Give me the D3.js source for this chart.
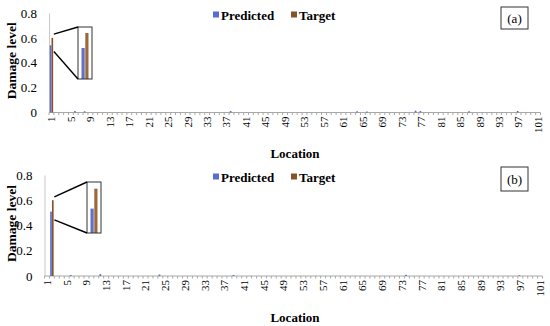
<!DOCTYPE html>
<html>
<head>
<meta charset="utf-8">
<script src="https://cdn.jsdelivr.net/npm/d3@7"></script>
<style>
  body { margin: 0; background: #fff; }
  svg, text { font-family: "Liberation Serif", "Times New Roman", serif; fill: #000; }
</style>
</head>
<body>
<svg id="chart" width="550" height="326"></svg>
<script>
// categories and values
let locations = d3.range(1, 102);
let xTickLabels = locations.filter(d => (d - 1) % 4 === 0);
let yTickValues = [0, 0.2, 0.4, 0.6, 0.8];
let seriesNames = ["Predicted", "Target"];

// [location, damage level] for the non-zero bars
let predictedA = [[1, 0.54], [6, 0.012], [8, 0.01], [38, 0.012], [64, 0.01], [66, 0.008], [76, 0.015], [77, 0.012], [87, 0.01], [97, 0.012]];
let targetA = [[1, 0.6]];
let predictedB = [[2, 0.51], [6, 0.008], [12, 0.015], [24, 0.012], [39, 0.008], [74, 0.01], [97, 0.006]];
let targetB = [[2, 0.6]];

let colors = {Predicted: "#5a6ccf", Target: "#84532a"};
let insetColors = {Predicted: "#6470c8", Target: "#9a6a3c"};

let svg = d3.select("#chart");

let panels = [
    {label: "(a)", pred: predictedA, target: targetA, xr: [49, 540.5], yr: [112.5, 13],
     legendY: 15, tagBox: [501, 7, 27, 22], locY: 158,
     inset: {loc: 1, x: 78, y: 27, w: 14, h: 52, domain: [0.416, 0.624], from: [0.63, 0.49]}},
    {label: "(b)", pred: predictedB, target: targetB, xr: [44.5, 542.5], yr: [276, 175],
     legendY: 177, tagBox: [501, 167, 27, 24], locY: 322,
     inset: {loc: 2, x: 87, y: 182, w: 14, h: 51, domain: [0.40, 0.63], from: [0.626, 0.444]}}
];

let serif = "'Liberation Serif', 'Times New Roman', serif";

panels.forEach(p => {
    let g = svg.append("g");

    let xScale = d3.scaleBand().domain(locations).range(p.xr);
    let inner = d3.scaleBand().domain(seriesNames).range([0.15 * xScale.bandwidth(), 0.85 * xScale.bandwidth()]).paddingInner(0.05);
    let yScale = d3.scaleLinear().domain([0, 0.8]).range(p.yr);

    // y axis
    let yAxis = d3.axisLeft(yScale).tickValues(yTickValues).tickSize(0).tickPadding(12)
        .tickFormat(d => d === 0 ? "0" : d.toFixed(1));
    let ya = g.append("g")
        .attr("transform", "translate(" + p.xr[0] + ",0)")
        .call(yAxis)
        .attr("font-family", serif);
    ya.select(".domain").attr("stroke", "#c8c8c8");
    ya.selectAll("text").style("font-size", "13px");

    // x axis line + minor ticks at every category boundary
    g.append("line")
        .attr("x1", p.xr[0]).attr("x2", p.xr[1])
        .attr("y1", p.yr[0]).attr("y2", p.yr[0])
        .attr("stroke", "#a8a8a8");
    g.selectAll(".minor")
        .data(locations.concat(["end"]))
        .enter().append("line")
        .attr("x1", d => d === "end" ? p.xr[1] : xScale(d))
        .attr("x2", d => d === "end" ? p.xr[1] : xScale(d))
        .attr("y1", p.yr[0]).attr("y2", p.yr[0] + 2.5)
        .attr("stroke", "#a8a8a8");

    let xAxis = d3.axisBottom(xScale).tickValues(xTickLabels).tickSize(0);
    let xa = g.append("g")
        .attr("transform", "translate(0," + p.yr[0] + ")")
        .call(xAxis)
        .attr("font-family", serif);
    xa.select(".domain").remove();
    xa.selectAll("text")
        .style("font-size", "11px")
        .attr("transform", "rotate(-90)")
        .attr("text-anchor", "end")
        .attr("x", -4)
        .attr("y", 0)
        .attr("dy", "0.35em");

    // bars
    g.selectAll(".pred")
        .data(p.pred)
        .enter().append("rect")
        .attr("x", d => xScale(d[0]) + inner("Predicted"))
        .attr("width", inner.bandwidth())
        .attr("y", d => yScale(d[1]))
        .attr("height", d => yScale(0) - yScale(d[1]))
        .attr("fill", colors.Predicted);
    g.selectAll(".targ")
        .data(p.target)
        .enter().append("rect")
        .attr("x", d => xScale(d[0]) + inner("Target"))
        .attr("width", inner.bandwidth())
        .attr("y", d => yScale(d[1]))
        .attr("height", d => yScale(0) - yScale(d[1]))
        .attr("fill", colors.Target);

    // zoomed inset
    let ins = p.inset;
    let ix = d3.scaleBand().domain(seriesNames).range([ins.x + 3.5, ins.x + ins.w - 3.5]).paddingInner(0.15);
    let iy = d3.scaleLinear().domain(ins.domain).range([ins.y + ins.h, ins.y]);
    let insetVals = [
        ["Predicted", p.pred.find(d => d[0] === ins.loc)[1]],
        ["Target", p.target.find(d => d[0] === ins.loc)[1]]
    ];
    g.selectAll(".ibar")
        .data(insetVals)
        .enter().append("rect")
        .attr("x", d => ix(d[0]))
        .attr("width", ix.bandwidth())
        .attr("y", d => iy(d[1]))
        .attr("height", d => iy(ins.domain[0]) - iy(d[1]))
        .attr("fill", d => insetColors[d[0]]);
    g.append("rect")
        .attr("x", ins.x).attr("y", ins.y)
        .attr("width", ins.w).attr("height", ins.h)
        .attr("fill", "none")
        .attr("stroke", "#333")
        .attr("stroke-width", 1);
    let barRight = xScale(ins.loc) + xScale.bandwidth();
    g.append("line")
        .attr("x1", barRight).attr("y1", yScale(ins.from[0]))
        .attr("x2", ins.x).attr("y2", ins.y)
        .attr("stroke", "#000").attr("stroke-width", 1.4);
    g.append("line")
        .attr("x1", barRight).attr("y1", yScale(ins.from[1]))
        .attr("x2", ins.x).attr("y2", ins.y + ins.h)
        .attr("stroke", "#000").attr("stroke-width", 1.4);

    // legend
    let legendX = [213, 291];
    seriesNames.forEach((s, i) => {
        g.append("rect")
            .attr("x", legendX[i]).attr("y", p.legendY - 3.5)
            .attr("width", 6).attr("height", 6)
            .attr("fill", colors[s]);
        g.append("text")
            .attr("x", legendX[i] + 8).attr("y", p.legendY + 4.5)
            .style("font-size", "13px").style("font-weight", "bold")
            .text(s);
    });

    // panel tag
    g.append("rect")
        .attr("x", p.tagBox[0]).attr("y", p.tagBox[1])
        .attr("width", p.tagBox[2]).attr("height", p.tagBox[3])
        .attr("fill", "none").attr("stroke", "#333");
    g.append("text")
        .attr("x", p.tagBox[0] + p.tagBox[2] / 2)
        .attr("y", p.tagBox[1] + p.tagBox[3] / 2 + 4.5)
        .attr("text-anchor", "middle")
        .style("font-size", "13px")
        .text(p.label);

    // axis titles
    g.append("text")
        .attr("x", 295).attr("y", p.locY)
        .attr("text-anchor", "middle")
        .style("font-size", "13px").style("font-weight", "bold")
        .text("Location");
    g.append("text")
        .attr("transform", "translate(16," + ((p.yr[0] + p.yr[1]) / 2 - 2) + ") rotate(-90)")
        .attr("text-anchor", "middle")
        .style("font-size", "13.5px").style("font-weight", "bold")
        .text("Damage level");
});
</script>
</body>
</html>
